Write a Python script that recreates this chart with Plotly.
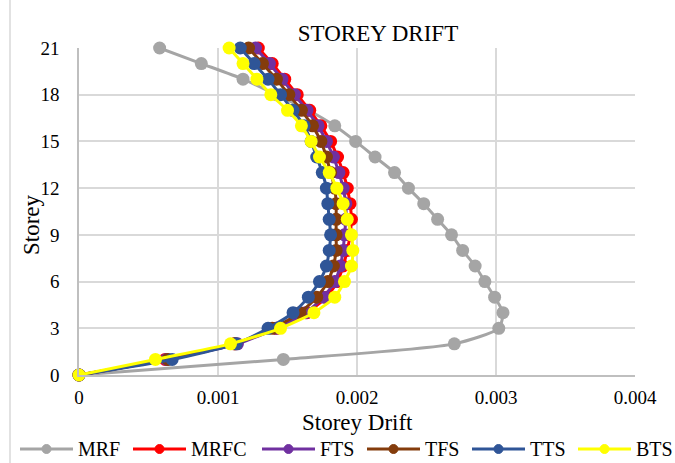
import plotly.graph_objects as go

storeys = list(range(0, 22))

MRF = [0, 1.47, 2.70, 3.02, 3.05, 2.99, 2.92, 2.85, 2.76, 2.68, 2.58, 2.48, 2.37, 2.27, 2.13, 1.99, 1.84, 1.65, 1.42, 1.18, 0.88, 0.58]
MRFC = [0, 0.62, 1.12, 1.42, 1.64, 1.78, 1.86, 1.90, 1.93, 1.95, 1.96, 1.95, 1.93, 1.90, 1.86, 1.81, 1.74, 1.66, 1.57, 1.48, 1.39, 1.29]
FTS = [0, 0.63, 1.14, 1.42, 1.63, 1.76, 1.84, 1.88, 1.90, 1.91, 1.92, 1.92, 1.90, 1.87, 1.83, 1.78, 1.72, 1.64, 1.55, 1.46, 1.37, 1.27]
TFS = [0, 0.64, 1.12, 1.39, 1.59, 1.71, 1.79, 1.83, 1.85, 1.85, 1.85, 1.85, 1.84, 1.81, 1.78, 1.74, 1.68, 1.60, 1.51, 1.42, 1.32, 1.22]
TTS = [0, 0.67, 1.13, 1.36, 1.54, 1.65, 1.73, 1.78, 1.80, 1.81, 1.80, 1.79, 1.78, 1.75, 1.71, 1.67, 1.62, 1.54, 1.45, 1.36, 1.26, 1.16]
BTS = [0, 0.55, 1.09, 1.45, 1.69, 1.84, 1.91, 1.96, 1.97, 1.96, 1.93, 1.90, 1.855, 1.80, 1.73, 1.67, 1.60, 1.50, 1.38, 1.28, 1.18, 1.08]

series_names = ["MRF", "MRFC", "FTS", "TFS", "TTS", "BTS"]
series_values = [MRF, MRFC, FTS, TFS, TTS, BTS]
series_colors = ["#a5a5a5", "#ff0000", "#7030a0", "#843c0c", "#2f5597", "#ffff00"]

x_ticks = [0, 0.001, 0.002, 0.003, 0.004]
x_tick_text = ["0", "0.001", "0.002", "0.003", "0.004"]
y_ticks = [0, 3, 6, 9, 12, 15, 18, 21]

FONT = "Liberation Serif"

# plot-area geometry in pixels
W, H = 675, 463
L, R, T, B = 79, 40, 48, 88
PW, PH = W - L - R, H - T - B


def px(x):
    return (x - L) / PW


def py(y):
    return (H - B - y) / PH


fig = go.Figure()
for name, vals, col in zip(series_names, series_values, series_colors):
    fig.add_trace(go.Scatter(
        x=[v / 1000 for v in vals], y=storeys, name=name,
        mode="lines+markers",
        line=dict(color=col, width=3, shape="spline", smoothing=0.6),
        marker=dict(color=col, size=13),
        cliponaxis=False, showlegend=False,
    ))

fig.update_layout(
    width=W, height=H,
    margin=dict(l=L, r=R, t=T, b=B, autoexpand=False),
    paper_bgcolor="white", plot_bgcolor="white",
    font=dict(family=FONT, size=19, color="#000000"),
    title=dict(text="STOREY DRIFT", x=px(378), xref="paper", xanchor="center",
               y=1 - 33 / H, yref="container", yanchor="middle",
               font=dict(family=FONT, size=23, color="#000000")),
    showlegend=False,
    xaxis=dict(range=[0, 0.004], tickvals=x_ticks, ticktext=x_tick_text,
               automargin=False,
               showgrid=True, gridcolor="#d9d9d9", gridwidth=1.5,
               showline=True, linecolor="#bfbfbf", linewidth=1.5,
               zeroline=False, ticks="", ticklabelstandoff=4,
               tickfont=dict(family=FONT, size=19)),
    yaxis=dict(range=[0, 21], tickvals=y_ticks,
               automargin=False,
               showgrid=True, gridcolor="#d9d9d9", gridwidth=1.5,
               showline=True, linecolor="#bfbfbf", linewidth=1.5,
               zeroline=False, ticks="", ticklabelstandoff=14,
               tickfont=dict(family=FONT, size=19)),
)

# axis titles
fig.add_annotation(text="Storey Drift", xref="paper", yref="paper",
                   x=px(357), y=py(422), showarrow=False,
                   xanchor="center", yanchor="middle",
                   font=dict(family=FONT, size=23))
fig.add_annotation(text="Storey", xref="paper", yref="paper",
                   x=px(31), y=py(225), showarrow=False, textangle=-90,
                   xanchor="center", yanchor="middle",
                   font=dict(family=FONT, size=23))

# chart frame left edge
fig.add_shape(type="line", xref="paper", yref="paper",
              x0=px(10), x1=px(10), y0=py(H), y1=py(0),
              line=dict(color="#d9d9d9", width=1.5))

# legend drawn below the plot
leg_starts = [20, 133, 262, 367, 472, 578]
leg_y = 449
sym_w = 53
rad = 4.5
for name, col, x0 in zip(series_names, series_colors, leg_starts):
    fig.add_shape(type="line", xref="paper", yref="paper",
                  x0=px(x0), x1=px(x0 + sym_w), y0=py(leg_y), y1=py(leg_y),
                  line=dict(color=col, width=3))
    cx = x0 + sym_w / 2
    fig.add_shape(type="circle", xref="paper", yref="paper",
                  x0=px(cx - rad), x1=px(cx + rad), y0=py(leg_y + rad), y1=py(leg_y - rad),
                  line=dict(color=col, width=1), fillcolor=col)
    fig.add_annotation(text=name, xref="paper", yref="paper",
                       x=px(x0 + sym_w + 3), y=py(leg_y), showarrow=False,
                       xanchor="left", yanchor="middle",
                       font=dict(family=FONT, size=20))

fig.write_html("out.html", config={"displayModeBar": False},
               post_script="document.body.style.margin='0';document.body.style.padding='0';")
